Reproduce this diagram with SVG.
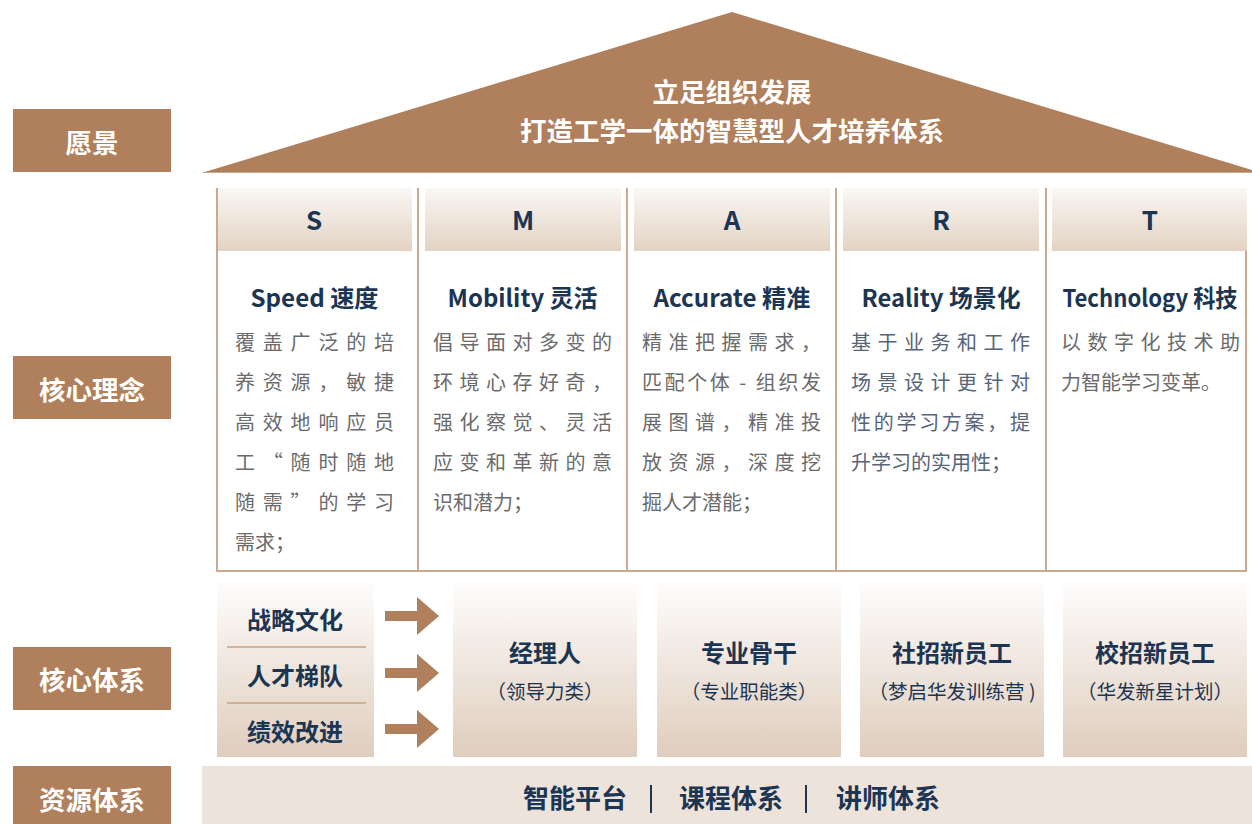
<svg xmlns="http://www.w3.org/2000/svg" width="1252" height="824" viewBox="0 0 1252 824">
<defs>
<linearGradient id="hdr" x1="0" y1="0" x2="0" y2="1">
<stop offset="0" stop-color="#faf7f4"/>
<stop offset="1" stop-color="#e3d2c3"/>
</linearGradient>
<linearGradient id="box" x1="0" y1="0" x2="0" y2="1">
<stop offset="0" stop-color="#fefdfc"/>
<stop offset="1" stop-color="#dfcdbd"/>
</linearGradient>
<path id="arrow" d="M0,-5 H32 V-19 L54,0 L32,19 V5 H0 Z"/>
</defs>
<style>
text{font-family:"Noto Sans CJK SC","Noto Sans",sans-serif}
.lbl rect{fill:#b07f5c}
.lbl text{fill:#fff;font-size:26.5px;font-weight:700;text-anchor:middle}
.roof{fill:#b07f5c}
.roofText{fill:#fff;font-size:26.5px;font-weight:700;text-anchor:middle}
.sep{stroke:#cba88e;stroke-width:2;fill:none}
.hdr{fill:url(#hdr)}
.letter{fill:#1b3553;font-size:26px;font-weight:700;text-anchor:middle}
.title{fill:#1b3553;font-size:24px;font-weight:700;text-anchor:middle}
.body{fill:#6b6b6b;font-size:20px}
.bodyR{fill:#56657a;font-size:20px}
.box{fill:url(#box)}
.bt{fill:#1b3553;font-size:24px;font-weight:700;text-anchor:middle}
.bs{fill:#1b3553;font-size:19.5px;text-anchor:middle}
.arr{fill:#b07f5c}
.div{stroke:#c9a283;stroke-width:1.5}
.res{fill:#1b3553;font-size:26px;font-weight:700;text-anchor:middle}
.bar{stroke:#1b3553;stroke-width:2}
</style>

<g id="label-vision" class="lbl"><rect x="13" y="109" width="158" height="63"/><text x="92" y="153">愿景</text></g>
<g id="label-concept" class="lbl"><rect x="13" y="356" width="158" height="63"/><text x="92" y="400">核心理念</text></g>
<g id="label-system" class="lbl"><rect x="13" y="647" width="158" height="63"/><text x="92" y="690">核心体系</text></g>
<g id="label-resource" class="lbl"><rect x="13" y="766" width="158" height="63"/><text x="92" y="810">资源体系</text></g>

<g id="roof">
<polygon class="roof" points="203,172.5 732,12 1252,170 1252,172.5"/>
<line x1="203" y1="172.5" x2="1252" y2="172.5" stroke="#c9a58a" stroke-width="1.2"/>
<text class="roofText" x="732" y="101.5">立足组织发展</text>
<text class="roofText" x="732" y="141">打造工学一体的智慧型人才培养体系</text>
</g>

<g id="frame">
<line class="sep" x1="217" y1="188" x2="217" y2="571"/>
<line class="sep" x1="418" y1="188" x2="418" y2="571"/>
<line class="sep" x1="627" y1="188" x2="627" y2="571"/>
<line class="sep" x1="836" y1="188" x2="836" y2="571"/>
<line class="sep" x1="1046" y1="188" x2="1046" y2="571"/>
<line class="sep" x1="1246" y1="188" x2="1246" y2="571"/>
<line class="sep" x1="216" y1="571" x2="1247" y2="571"/>
</g>

<g id="col-S">
<rect class="hdr" x="218" y="188" width="194" height="63"/>
<text class="letter" x="314" y="230">S</text>
<text class="title" x="314.5" y="307" textLength="128" lengthAdjust="spacingAndGlyphs">Speed 速度</text>
<text class="body" x="235" y="350" textLength="159" lengthAdjust="spacing">覆盖广泛的培</text>
<text class="body" x="235" y="390" textLength="159" lengthAdjust="spacing">养资源，敏捷</text>
<text class="body" x="235" y="430" textLength="159" lengthAdjust="spacing">高效地响应员</text>
<text class="body" x="235" y="470" textLength="159" lengthAdjust="spacing">工“随时随地</text>
<text class="body" x="235" y="510" textLength="159" lengthAdjust="spacing">随需”的学习</text>
<text class="body" x="235" y="550">需求；</text>
</g>

<g id="col-M">
<rect class="hdr" x="425" y="188" width="196" height="63"/>
<text class="letter" x="523" y="230">M</text>
<text class="title" x="522.5" y="307" textLength="150" lengthAdjust="spacingAndGlyphs">Mobility 灵活</text>
<text class="body" x="433" y="350" textLength="179" lengthAdjust="spacing">倡导面对多变的</text>
<text class="body" x="433" y="390" textLength="179" lengthAdjust="spacing">环境心存好奇，</text>
<text class="body" x="433" y="430" textLength="179" lengthAdjust="spacing">强化察觉、灵活</text>
<text class="body" x="433" y="470" textLength="179" lengthAdjust="spacing">应变和革新的意</text>
<text class="body" x="433" y="510">识和潜力；</text>
</g>

<g id="col-A">
<rect class="hdr" x="634" y="188" width="196" height="63"/>
<text class="letter" x="732" y="230">A</text>
<text class="title" x="732" y="307" textLength="157" lengthAdjust="spacingAndGlyphs">Accurate 精准</text>
<text class="body" x="642" y="350" textLength="179" lengthAdjust="spacing">精准把握需求，</text>
<text class="body" x="642" y="390" textLength="179" lengthAdjust="spacing">匹配个体 - 组织发</text>
<text class="body" x="642" y="430" textLength="179" lengthAdjust="spacing">展图谱，精准投</text>
<text class="body" x="642" y="470" textLength="179" lengthAdjust="spacing">放资源，深度挖</text>
<text class="body" x="642" y="510">掘人才潜能；</text>
</g>

<g id="col-R">
<rect class="hdr" x="843" y="188" width="196" height="63"/>
<text class="letter" x="941" y="230">R</text>
<text class="title" x="941" y="307" textLength="159" lengthAdjust="spacingAndGlyphs">Reality 场景化</text>
<text class="bodyR" x="851" y="350" textLength="179" lengthAdjust="spacing">基于业务和工作</text>
<text class="bodyR" x="851" y="390" textLength="179" lengthAdjust="spacing">场景设计更针对</text>
<text class="bodyR" x="851" y="430" textLength="179" lengthAdjust="spacing">性的学习方案，提</text>
<text class="bodyR" x="851" y="470">升学习的实用性；</text>
</g>

<g id="col-T">
<rect class="hdr" x="1052" y="188" width="195" height="63"/>
<text class="letter" x="1150" y="230">T</text>
<text class="title" x="1150" y="307" textLength="175" lengthAdjust="spacingAndGlyphs">Technology 科技</text>
<text class="body" x="1061" y="350" textLength="179" lengthAdjust="spacing">以数字化技术助</text>
<text class="body" x="1061" y="390">力智能学习变革。</text>
</g>

<g id="drivers">
<rect class="box" x="217" y="582" width="157" height="175"/>
<line class="div" x1="227" y1="647" x2="366" y2="647"/>
<line class="div" x1="227" y1="703" x2="366" y2="703"/>
<text class="bt" x="295" y="629">战略文化</text>
<text class="bt" x="295" y="685">人才梯队</text>
<text class="bt" x="295" y="741">绩效改进</text>
</g>

<g id="connectors">
<use href="#arrow" class="arr" transform="translate(385,616)"/>
<use href="#arrow" class="arr" transform="translate(385,673)"/>
<use href="#arrow" class="arr" transform="translate(385,729)"/>
</g>

<g id="box-manager">
<rect class="box" x="453" y="582" width="184" height="175"/>
<text class="bt" x="545" y="662">经理人</text>
<text class="bs" x="545" y="699">（领导力类）</text>
</g>
<g id="box-pro">
<rect class="box" x="657" y="582" width="184" height="175"/>
<text class="bt" x="749" y="662">专业骨干</text>
<text class="bs" x="749" y="699">（专业职能类）</text>
</g>
<g id="box-social">
<rect class="box" x="860" y="582" width="184" height="175"/>
<text class="bt" x="952" y="662">社招新员工</text>
<text class="bs" x="952" y="699">（梦启华发训练营 )</text>
</g>
<g id="box-campus">
<rect class="box" x="1063" y="582" width="184" height="175"/>
<text class="bt" x="1155" y="662">校招新员工</text>
<text class="bs" x="1155" y="699">（华发新星计划）</text>
</g>

<g id="resources">
<rect x="202" y="766" width="1050" height="58" fill="#ede3da"/>
<text class="res" x="575" y="808">智能平台</text>
<line class="bar" x1="651" y1="785" x2="651" y2="813"/>
<text class="res" x="731" y="808">课程体系</text>
<line class="bar" x1="806" y1="785" x2="806" y2="813"/>
<text class="res" x="888" y="808">讲师体系</text>
</g>
</svg>
